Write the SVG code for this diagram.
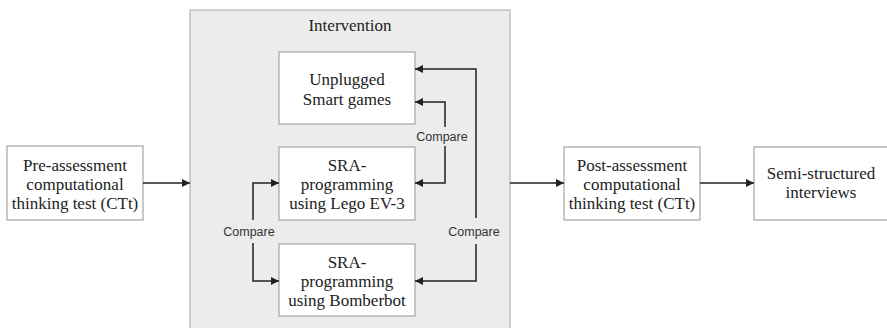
<svg xmlns="http://www.w3.org/2000/svg" width="887" height="328" viewBox="0 0 887 328">
  <style>
    .box { fill: #ffffff; stroke: #a6a6a6; stroke-width: 1.2; }
    .group { fill: #ececec; stroke: #b4b4b4; stroke-width: 1.2; }
    .lbl { font-family: "Liberation Serif", "Times New Roman", serif; font-size: 17px; fill: #222222; text-anchor: middle; }
    .cmp { font-family: "Liberation Sans", Arial, sans-serif; font-size: 12.5px; fill: #333333; text-anchor: middle; }
    .wire { fill: none; stroke: #222222; stroke-width: 1.5; }
  </style>
  <defs>
    <marker id="arrow" viewBox="0 0 10 10" refX="10" refY="5" markerWidth="9" markerHeight="8" markerUnits="userSpaceOnUse" orient="auto">
      <path d="M0,0 L10,5 L0,10 Z" fill="#222222"/>
    </marker>
  </defs>

  <rect width="887" height="328" fill="#ffffff"/>

  <!-- Intervention container -->
  <g id="intervention">
    <rect class="group" x="190" y="10" width="320" height="330"/>
    <text class="lbl" x="350" y="31">Intervention</text>
  </g>

  <g id="pre-assessment">
    <rect class="box" x="7" y="146" width="136" height="74"/>
    <text class="lbl" x="75" y="171">Pre-assessment</text>
    <text class="lbl" x="75" y="190">computational</text>
    <text class="lbl" x="75" y="209">thinking test (CTt)</text>
  </g>

  <g id="unplugged">
    <rect class="box" x="279" y="52" width="136" height="72"/>
    <text class="lbl" x="347" y="85">Unplugged</text>
    <text class="lbl" x="347" y="105">Smart games</text>
  </g>

  <g id="lego">
    <rect class="box" x="279" y="147" width="136" height="73"/>
    <text class="lbl" x="347" y="171">SRA-</text>
    <text class="lbl" x="347" y="190">programming</text>
    <text class="lbl" x="347" y="209">using Lego EV-3</text>
  </g>

  <g id="bomberbot">
    <rect class="box" x="279" y="244" width="136" height="72"/>
    <text class="lbl" x="347" y="268">SRA-</text>
    <text class="lbl" x="347" y="287">programming</text>
    <text class="lbl" x="347" y="306">using Bomberbot</text>
  </g>

  <g id="post-assessment">
    <rect class="box" x="564" y="147" width="136" height="73"/>
    <text class="lbl" x="632" y="171">Post-assessment</text>
    <text class="lbl" x="632" y="190">computational</text>
    <text class="lbl" x="632" y="209">thinking test (CTt)</text>
  </g>

  <g id="interviews">
    <rect class="box" x="754" y="147" width="138" height="73"/>
    <text class="lbl" x="821" y="179">Semi-structured</text>
    <text class="lbl" x="821" y="198">interviews</text>
  </g>

  <!-- Connectors -->
  <g id="connectors">
    <line class="wire" x1="143" y1="183" x2="190" y2="183" marker-end="url(#arrow)"/>
    <line class="wire" x1="510" y1="183" x2="564" y2="183" marker-end="url(#arrow)"/>
    <line class="wire" x1="700" y1="183" x2="754" y2="183" marker-end="url(#arrow)"/>

    <!-- Unplugged vs Lego -->
    <path class="wire" d="M445,127 V102 H415" marker-end="url(#arrow)"/>
    <path class="wire" d="M445,146 V183 H415" marker-end="url(#arrow)"/>
    <text class="cmp" x="442" y="141">Compare</text>

    <!-- Unplugged vs Bomberbot -->
    <path class="wire" d="M476,218 V69 H415" marker-end="url(#arrow)"/>
    <path class="wire" d="M476,244 V281 H415" marker-end="url(#arrow)"/>
    <text class="cmp" x="474" y="236">Compare</text>

    <!-- Lego vs Bomberbot -->
    <path class="wire" d="M253,220 V183 H279" marker-end="url(#arrow)"/>
    <path class="wire" d="M253,243 V281 H279" marker-end="url(#arrow)"/>
    <text class="cmp" x="249" y="236">Compare</text>
  </g>
</svg>
